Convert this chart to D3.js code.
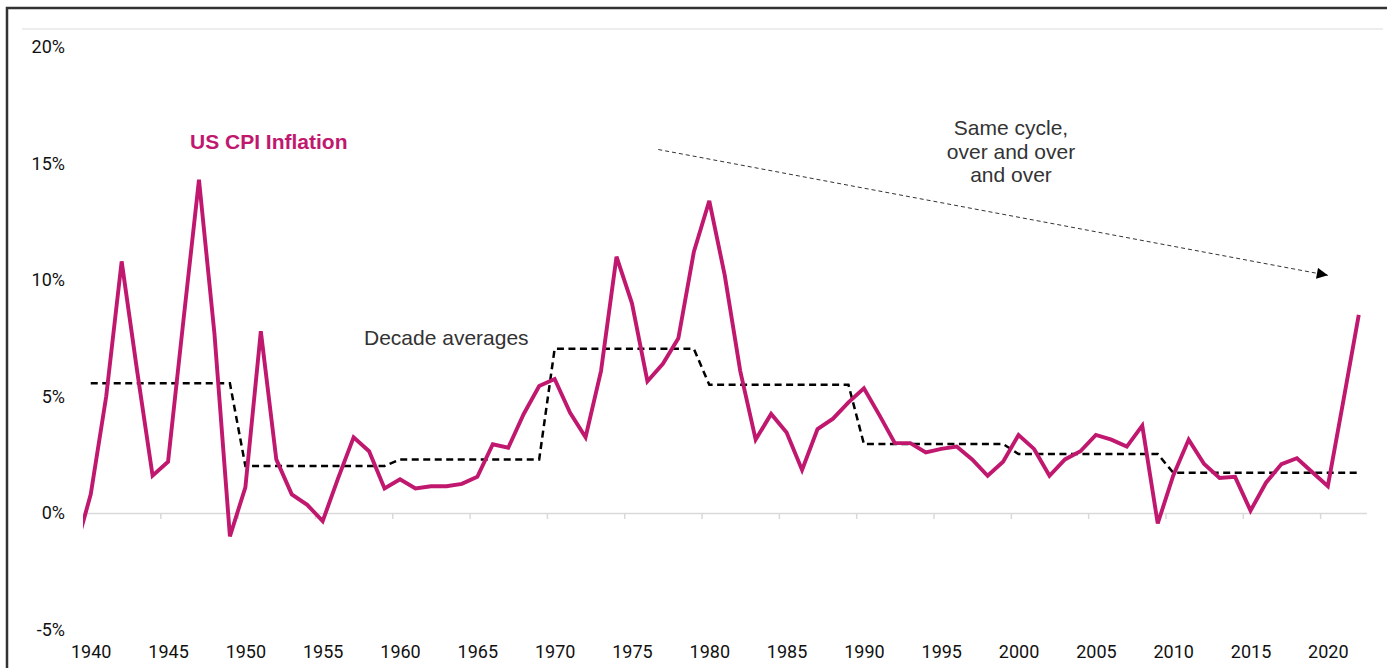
<!DOCTYPE html>
<html>
<head>
<meta charset="utf-8">
<script src="https://cdn.jsdelivr.net/npm/d3@7"></script>
<style>
	body { margin: 0; background: #fff; }
	.axislabel text { font-family: Roboto, "DejaVu Sans", sans-serif; font-size: 18px; fill: #111; }
	.note { font-family: "Liberation Sans", Arial, sans-serif; font-size: 21px; fill: #333; }
</style>
</head>
<body>
<div id="main-chart"></div>
<script>
// DATA
var years = [1939,1940,1941,1942,1943,1944,1945,1946,1947,1948,1949,
	1950,1951,1952,1953,1954,1955,1956,1957,1958,1959,
	1960,1961,1962,1963,1964,1965,1966,1967,1968,1969,
	1970,1971,1972,1973,1974,1975,1976,1977,1978,1979,
	1980,1981,1982,1983,1984,1985,1986,1987,1988,1989,
	1990,1991,1992,1993,1994,1995,1996,1997,1998,1999,
	2000,2001,2002,2003,2004,2005,2006,2007,2008,2009,
	2010,2011,2012,2013,2014,2015,2016,2017,2018,2019,
	2020,2021,2022];

var cpiInflation = [-1.6,0.8,5.0,10.8,6.1,1.6,2.2,8.3,14.3,7.7,-1.0,
	1.1,7.8,2.3,0.8,0.35,-0.35,1.5,3.25,2.65,1.05,
	1.45,1.05,1.15,1.15,1.25,1.55,2.95,2.8,4.25,5.45,
	5.75,4.3,3.25,6.1,11.0,9.0,5.65,6.4,7.5,11.2,
	13.4,10.2,6.1,3.15,4.25,3.45,1.85,3.6,4.05,4.75,
	5.35,4.2,3.0,3.0,2.6,2.75,2.85,2.3,1.6,2.2,
	3.35,2.75,1.6,2.3,2.65,3.35,3.15,2.85,3.75,-0.45,
	1.6,3.15,2.1,1.5,1.55,0.1,1.3,2.1,2.35,1.75,
	1.15,4.8,8.5];

var decadeStarts = [1940,1950,1960,1970,1980,1990,2000,2010];
var decadeAverages = [5.57,2.02,2.3,7.05,5.5,2.96,2.53,1.73];

var yTicks = [-5,0,5,10,15,20];
var xLabels = [1940,1945,1950,1955,1960,1965,1970,1975,1980,1985,1990,1995,2000,2005,2010,2015,2020];

// where the annotations sit, in chart units (year, %)
var arrowFrom = [1976.7, 15.6],
	arrowTo = [2020.0, 10.2];

var chartWidth = 1387,
	chartHeight = 668;

var pink = "#c0186f";

function drawChart(){

	x = d3.scaleLinear().domain([1939.5, 2022.5]).range([83, 1366.5]);
	y = d3.scaleLinear().domain([-5, 20]).range([629.5, 47]);

	svg = d3.select("#main-chart").append("svg")
		.attr("width", chartWidth)
		.attr("height", chartHeight);

	// outer frame (cut off on the right and bottom)
	svg.append("rect")
		.attr("x", 7).attr("y", 8)
		.attr("width", 1420).attr("height", 720)
		.attr("fill", "none")
		.attr("stroke", "#333")
		.attr("stroke-width", 2.5);

	// thin line across the top of the plot
	svg.append("line")
		.attr("x1", 22).attr("x2", 1383)
		.attr("y1", 29).attr("y2", 29)
		.attr("stroke", "#dcdcdc")
		.attr("stroke-width", 1.2);

	svg.append("defs").append("clipPath")
		.attr("id", "plotclip")
		.append("rect")
		.attr("x", x(1939.5)).attr("y", 0)
		.attr("width", chartWidth).attr("height", chartHeight);

	// y labels
	var yAxis = d3.axisLeft(y)
		.tickValues(yTicks)
		.tickSize(0)
		.tickPadding(0)
		.tickFormat(function(d){ return d + "%"; });

	svg.append("g")
		.attr("class", "axislabel")
		.attr("transform", "translate(65,0)")
		.call(yAxis)
		.call(function(g){ g.select(".domain").remove(); });

	// x axis line with ticks between the years
	var xTickAxis = d3.axisBottom(x)
		.tickValues(xLabels.slice(1).map(function(d){ return d - 0.5; }))
		.tickSize(6)
		.tickSizeOuter(0)
		.tickFormat("");

	var xt = svg.append("g")
		.attr("transform", "translate(0," + y(0) + ")")
		.call(xTickAxis);
	xt.select(".domain").attr("stroke", "#d9d9d9").attr("stroke-width", 1.5);
	xt.selectAll(".tick line").attr("stroke", "#d9d9d9").attr("stroke-width", 1.5);

	// x labels
	var xLabelAxis = d3.axisBottom(x)
		.tickValues(xLabels)
		.tickSize(0)
		.tickPadding(0)
		.tickFormat(d3.format("d"));

	svg.append("g")
		.attr("class", "axislabel")
		.attr("transform", "translate(0,645)")
		.call(xLabelAxis)
		.call(function(g){ g.select(".domain").remove(); });

	// decade averages, one point per year
	var decadeSeries = years.filter(function(yr){ return yr >= 1940; }).map(function(yr){
		var i = d3.bisectRight(decadeStarts, yr) - 1;
		return [yr, decadeAverages[i]];
	});

	var line = d3.line()
		.x(function(d){ return x(d[0]); })
		.y(function(d){ return y(d[1]); });

	svg.append("path")
		.datum(decadeSeries)
		.attr("d", line)
		.attr("fill", "none")
		.attr("stroke", "#000")
		.attr("stroke-width", 2.5)
		.attr("stroke-dasharray", "7,4.5");

	// CPI line
	svg.append("path")
		.datum(d3.zip(years, cpiInflation))
		.attr("clip-path", "url(#plotclip)")
		.attr("d", line)
		.attr("fill", "none")
		.attr("stroke", pink)
		.attr("stroke-width", 3.9)
		.attr("stroke-linejoin", "miter");

	// arrow
	svg.append("defs").append("marker")
		.attr("id", "arrowhead")
		.attr("viewBox", "0 0 10 10")
		.attr("refX", 10).attr("refY", 5)
		.attr("markerUnits", "userSpaceOnUse")
		.attr("markerWidth", 12).attr("markerHeight", 11)
		.attr("orient", "auto")
		.append("path")
		.attr("d", "M0,0L10,5L0,10Z")
		.attr("fill", "#000");

	svg.append("line")
		.attr("x1", x(arrowFrom[0])).attr("y1", y(arrowFrom[1]))
		.attr("x2", x(arrowTo[0])).attr("y2", y(arrowTo[1]))
		.attr("stroke", "#333")
		.attr("stroke-width", 1)
		.attr("stroke-dasharray", "4,3")
		.attr("marker-end", "url(#arrowhead)");

	// labels
	svg.append("text")
		.attr("class", "note")
		.attr("x", 190).attr("y", 149)
		.style("font-weight", "bold")
		.style("fill", pink)
		.text("US CPI Inflation");

	svg.append("text")
		.attr("class", "note")
		.attr("x", 364).attr("y", 345)
		.text("Decade averages");

	var cycleText = svg.append("text")
		.attr("class", "note")
		.attr("text-anchor", "middle")
		.attr("x", 1011).attr("y", 135);
	["Same cycle,", "over and over", "and over"].forEach(function(t, i){
		cycleText.append("tspan")
			.attr("x", 1011)
			.attr("dy", i == 0 ? 0 : 23.6)
			.text(t);
	});
}

///EXECUTE
drawChart();
</script>
</body>
</html>
